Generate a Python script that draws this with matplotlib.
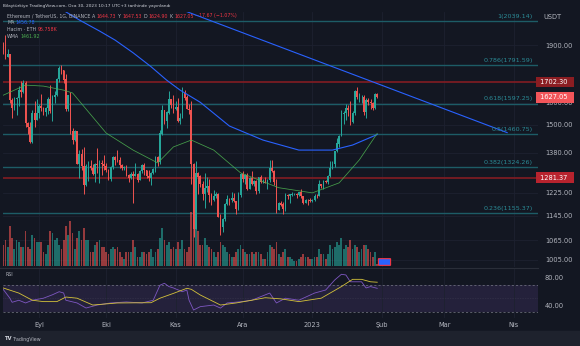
import matplotlib
matplotlib.use("Agg")
import matplotlib.pyplot as plt
import matplotlib.dates as mdates
import matplotlib.transforms as mtransforms
from matplotlib.lines import Line2D
from matplotlib.patches import Rectangle, FancyBboxPatch
from matplotlib.ticker import FixedLocator, NullLocator, FuncFormatter
import numpy as np
import pandas as pd

W, H = 580, 346
BG = "#131722"
UP = "#26a69a"
DOWN = "#ef5350"
TXT = "#b2b5be"
FIB = "#1d5c66"
FIB_TXT = "#2b8b96"
RED_LINE = "#7a1c22"
NARROW = ["Liberation Sans Narrow", "DejaVu Sans"]

# ETH/USDT daily candles, 2022-08-15 .. 2023-01-30
first_open = 1935.0
highs = [
    1960, 1915, 1960, 1880, 1850, 1625, 1630, 1628, 1682, 1710, 1715, 1710, 1512, 1510, 1565, 1607, 1618,
    1596, 1644, 1580, 1580, 1628, 1687, 1636, 1660, 1725, 1785, 1790, 1766, 1745, 1640, 1652, 1485, 1475,
    1470, 1390, 1395, 1405, 1336, 1348, 1350, 1335, 1337, 1400, 1349, 1350, 1372,
    1338, 1315, 1327, 1365, 1365, 1392, 1361, 1336, 1327, 1332, 1295, 1303, 1306, 1340, 1298, 1312, 1336,
    1340, 1313, 1310, 1303, 1318, 1365, 1365, 1475, 1590, 1568, 1560, 1660, 1620, 1640,
    1611, 1623, 1555, 1680, 1665, 1640, 1597, 1608, 1340, 1345, 1303, 1293, 1270, 1300, 1285, 1276, 1225,
    1236, 1227, 1226, 1150, 1138, 1190, 1218, 1205, 1230, 1224, 1197, 1228, 1300,
    1308, 1296, 1300, 1285, 1306, 1273, 1272, 1285, 1290, 1276, 1285, 1277, 1350, 1352, 1310, 1276, 1191,
    1197, 1193, 1225, 1220, 1220, 1228, 1224, 1225, 1229, 1240, 1215, 1203, 1202, 1208,
    1202, 1222, 1220, 1273, 1259, 1272, 1271, 1290, 1347, 1347, 1389, 1440, 1454, 1565, 1560, 1597, 1588,
    1609, 1560, 1665, 1676, 1648, 1640, 1640, 1625, 1625, 1620, 1605, 1650, 1647.53,
]
lows = [
    1862, 1851, 1825, 1835, 1600, 1530, 1565, 1542, 1585, 1630, 1648, 1490, 1460, 1422, 1421, 1490, 1522,
    1530, 1560, 1544, 1541, 1550, 1555, 1515, 1600, 1633, 1705, 1742, 1700, 1560, 1560, 1460, 1415, 1430,
    1334, 1280, 1313, 1220, 1252, 1268, 1313, 1290, 1267, 1300, 1262, 1290, 1310,
    1305, 1274, 1270, 1315, 1330, 1342, 1320, 1310, 1313, 1288, 1267, 1275, 1190, 1287, 1267, 1274, 1299,
    1292, 1282, 1270, 1255, 1296, 1305, 1327, 1335, 1456, 1503, 1486, 1548, 1578, 1553,
    1567, 1510, 1504, 1530, 1616, 1570, 1548, 1259, 1073, 1102, 1220, 1245, 1200, 1170, 1230, 1193, 1183,
    1195, 1205, 1140, 1081, 1091, 1128, 1180, 1180, 1192, 1194, 1152, 1163, 1211,
    1264, 1257, 1235, 1238, 1255, 1250, 1222, 1225, 1260, 1262, 1260, 1241, 1264, 1303, 1255, 1155, 1163,
    1178, 1151, 1160, 1203, 1190, 1213, 1216, 1208, 1213, 1206, 1185, 1187, 1180, 1194,
    1191, 1195, 1205, 1212, 1242, 1239, 1262, 1259, 1285, 1314, 1321, 1383, 1403, 1449, 1501, 1522, 1537,
    1500, 1508, 1544, 1617, 1606, 1602, 1545, 1532, 1588, 1570, 1568, 1570, 1624.90,
]
closes = [
    1898, 1877, 1834, 1848, 1612, 1577, 1619, 1625, 1662, 1655, 1697, 1508, 1490, 1424, 1553, 1523, 1553,
    1586, 1577, 1556, 1577, 1618, 1562, 1629, 1636, 1717, 1776, 1762, 1715, 1573, 1636, 1472, 1433, 1470,
    1336, 1376, 1325, 1253, 1327, 1328, 1318, 1294, 1334, 1330, 1337, 1336, 1328,
    1311, 1276, 1323, 1362, 1352, 1351, 1331, 1317, 1323, 1292, 1279, 1294, 1288, 1297, 1274, 1306, 1331,
    1311, 1287, 1282, 1299, 1314, 1363, 1343, 1461, 1568, 1515, 1555, 1620, 1589, 1572,
    1579, 1518, 1530, 1645, 1626, 1570, 1567, 1334, 1101, 1298, 1286, 1256, 1220, 1242, 1250, 1216, 1200,
    1212, 1219, 1141, 1107, 1134, 1184, 1203, 1198, 1206, 1196, 1168, 1216, 1296,
    1275, 1293, 1241, 1280, 1259, 1270, 1231, 1282, 1264, 1265, 1262, 1274, 1318, 1308, 1265, 1166, 1187,
    1183, 1167, 1217, 1212, 1219, 1219, 1220, 1219, 1226, 1212, 1189, 1200, 1199, 1196,
    1200, 1215, 1214, 1256, 1251, 1269, 1264, 1288, 1320, 1336, 1388, 1418, 1451, 1550, 1551, 1577, 1566,
    1512, 1552, 1659, 1628, 1628, 1629, 1556, 1612, 1603, 1598, 1574, 1644.73, 1627.05,
]
volumes_k = [
    1400, 900, 1100, 800, 1700, 1200, 700, 1100, 1000, 800, 800, 1500, 800, 700, 1300, 1200, 1000,
    1000, 1000, 600, 500, 900, 1500, 1400, 1100, 1200, 900, 700, 1100, 1700, 1300, 1900, 1400, 700,
    1200, 1500, 1100, 1600, 1100, 1100, 600, 600, 900, 1000, 1100, 800, 800,
    600, 500, 700, 800, 700, 800, 600, 400, 300, 600, 600, 600, 1100, 800, 400, 400, 600,
    600, 500, 600, 700, 400, 600, 700, 1200, 1600, 1100, 900, 1000, 700, 800,
    700, 1000, 700, 1100, 700, 600, 800, 2300, 2900, 2500, 1500, 900, 900, 1200, 900, 800, 700,
    600, 400, 600, 1000, 900, 800, 600, 500, 400, 400, 600, 700, 900,
    700, 600, 500, 500, 600, 500, 600, 600, 500, 300, 300, 600, 900, 800, 700, 1000, 500,
    400, 600, 700, 400, 400, 300, 200, 200, 300, 400, 500, 400, 400, 300,
    300, 400, 400, 700, 500, 500, 300, 500, 900, 700, 800, 1000, 900, 1200, 700, 900, 800,
    1100, 700, 900, 800, 600, 700, 900, 900, 700, 600, 400, 600, 96,
]
candle_dates = pd.date_range("2022-08-15", "2023-01-30", freq="D")

# moving averages read at sample dates
ma_dates = ["2022-09-08", "2022-09-19", "2022-09-28", "2022-10-05", "2022-10-13", "2022-10-21",
            "2022-10-28", "2022-11-03", "2022-11-12", "2022-11-25", "2022-12-10", "2022-12-26",
            "2023-01-10", "2023-01-19", "2023-01-30"]
ma_vals = [2139, 2047, 1981, 1928, 1857, 1782, 1712, 1662, 1603, 1494, 1433, 1391, 1391, 1412, 1456.78]

wma_dates = ["2022-08-16", "2022-08-23", "2022-08-26", "2022-09-03", "2022-09-12", "2022-09-16",
             "2022-10-01", "2022-10-13", "2022-10-24", "2022-10-31", "2022-11-08", "2022-11-18",
             "2022-11-30", "2022-12-17", "2023-01-01", "2023-01-13", "2023-01-22", "2023-01-30"]
wma_vals = [1637, 1672, 1687, 1682, 1662, 1648, 1463, 1391, 1339, 1404, 1433, 1391, 1300, 1244,
            1225, 1262, 1351, 1461.92]

trend_dates = ["2022-10-31", "2023-03-29"]
trend_vals = [2130, 1465]

fib_ratios = ["1", "0.786", "0.618", "0.5", "0.382", "0.236"]
fib_prices = [2039.14, 1791.59, 1597.25, 1460.75, 1324.26, 1155.37]
red_levels = [1702.30, 1281.37]
last_price = 1627.05

rsi_dates = ["2022-08-16", "2022-08-19", "2022-08-20", "2022-08-23", "2022-08-26", "2022-08-29",
             "2022-09-03", "2022-09-07", "2022-09-10", "2022-09-12", "2022-09-13", "2022-09-18",
             "2022-09-22", "2022-09-27", "2022-10-03", "2022-10-10", "2022-10-17", "2022-10-22",
             "2022-10-25", "2022-10-27", "2022-10-29", "2022-10-31", "2022-11-04", "2022-11-06",
             "2022-11-07", "2022-11-09", "2022-11-12", "2022-11-18", "2022-11-21", "2022-11-24",
             "2022-11-30", "2022-12-05", "2022-12-13", "2022-12-16", "2022-12-20", "2022-12-26",
             "2023-01-02", "2023-01-07", "2023-01-11", "2023-01-14", "2023-01-16", "2023-01-18",
             "2023-01-23", "2023-01-25", "2023-01-27", "2023-01-30"]
rsi_vals = [63, 50, 44, 47, 43, 47, 50, 55, 59.5, 57.6, 47, 43, 35.6, 40, 43, 44.5, 43, 47,
            69, 71.8, 67, 65, 59.5, 62, 47, 32.7, 37.6, 40, 35.5, 43, 44.8, 47, 57.5, 43, 50, 47,
            57.5, 62, 76.6, 85, 84, 74, 74, 65, 67, 64.45]
rsi_ma_dates = ["2022-08-16", "2022-08-23", "2022-08-29", "2022-09-03", "2022-09-09", "2022-09-13",
                "2022-09-18", "2022-09-25", "2022-10-06", "2022-10-21", "2022-10-25", "2022-10-31",
                "2022-11-06", "2022-11-08", "2022-11-12", "2022-11-21", "2022-11-28", "2022-12-05",
                "2022-12-11", "2022-12-18", "2022-12-26", "2023-01-05", "2023-01-14", "2023-01-19",
                "2023-01-23", "2023-01-27", "2023-01-30"]
rsi_ma_vals = [65, 57.5, 47, 45, 45, 51.7, 50, 40, 43, 43.4, 50, 57, 64.5, 63, 54.7, 40, 43, 47,
               50.7, 49, 45, 50, 67, 77.6, 77.6, 74, 73.39]

price_ticks = [1005, 1065, 1145, 1225, 1380, 1500, 1600, 1900]
month_ticks = ["2022-09-01", "2022-10-01", "2022-11-01", "2022-12-01", "2023-01-01",
               "2023-02-01", "2023-03-01", "2023-04-01"]
month_labels = ["Eyl", "Eki", "Kas", "Ara", "2023", "Şub", "Mar", "Nis"]


def fx(px):
    return px / W


def fy(py):
    return 1 - py / H


def num(dates):
    return mdates.date2num(pd.to_datetime(dates))


fig = plt.figure(figsize=(W / 100, H / 100), dpi=100, facecolor=BG)
fig.add_artist(Rectangle((0, 0), 1, fy(331), transform=fig.transFigure, color="#1e222d", zorder=0))

left, right = 3, 538
ax = fig.add_axes([fx(left), fy(267), fx(right - left), 255 / H])
vax = fig.add_axes([fx(left), fy(266), fx(right - left), 71 / H], sharex=ax)
rax = fig.add_axes([fx(left), fy(318), fx(right - left), 50 / H], sharex=ax)

x0 = mdates.date2num(pd.Timestamp("2022-09-01"))
ax.set_xlim(x0 - 16.07, x0 + 222.77)

for a in (ax, vax, rax):
    a.set_facecolor("none")
    for s in a.spines.values():
        s.set_visible(False)
vax.axis("off")
ax.set_facecolor(BG)
rax.set_facecolor(BG)

# --- price pane
ax.set_yscale("log")
ax.set_ylim(983, 2096)
ax.yaxis.tick_right()
ax.yaxis.set_major_locator(FixedLocator(price_ticks))
ax.yaxis.set_minor_locator(NullLocator())
ax.yaxis.set_major_formatter(FuncFormatter(lambda v, p: f"{v:.2f}"))
ax.tick_params(axis="y", length=0, pad=5, labelsize=4.8, labelcolor=TXT)
ax.tick_params(axis="x", length=0, labelbottom=False)
ax.set_xticks(num(month_ticks))
ax.grid(True, color="#1d2130", lw=0.6)

xs = mdates.date2num(candle_dates)
opens = [first_open] + closes[:-1]
o = np.array(opens, float)
c = np.array(closes, float)
cols = [UP if cc >= oo else DOWN for oo, cc in zip(o, c)]
ax.vlines(xs, lows, highs, colors=cols, lw=0.7, zorder=4)
ax.bar(xs, np.abs(c - o) + 0.5, bottom=np.minimum(o, c), width=0.74, color=cols, lw=0, zorder=5)

ax.plot(num(ma_dates), ma_vals, color="#2962ff", lw=0.8, zorder=6)
ax.plot(num(wma_dates), wma_vals, color="#4caf50", lw=0.55, alpha=0.9, zorder=6)
ax.plot(num(trend_dates), trend_vals, color="#2962ff", lw=0.8, zorder=6)

blend = mtransforms.blended_transform_factory(ax.transAxes, ax.transData)
for r, p in zip(fib_ratios, fib_prices):
    ax.axhline(p, color=FIB, lw=1.0, zorder=3)
    ax.annotate(f"{r}({p:.2f})", xy=(0.99, p), xycoords=blend, xytext=(0, 1.5),
                textcoords="offset points", ha="right", va="bottom",
                fontsize=4.6, color=FIB_TXT, zorder=7)
for p in red_levels:
    ax.axhline(p, color=RED_LINE, lw=1.3, zorder=3)

tag_colors = {1702.30: "#8b1d22", 1281.37: "#b8232e", last_price: "#f2555a"}
for p, col in tag_colors.items():
    ax.text(1.0, p, f" {p:.2f}  ", transform=blend, ha="left", va="center", fontsize=4.8,
            color="white", clip_on=False, zorder=10,
            bbox=dict(boxstyle="square,pad=0.35", fc=col, ec="none"))

# --- volume overlay
vax.set_ylim(0, 3000)
vcols = [(0.149, 0.651, 0.604, 0.6) if cc >= oo else (0.937, 0.325, 0.314, 0.6) for oo, cc in zip(o, c)]
vax.bar(xs, volumes_k, width=0.8, color=vcols, lw=0, zorder=2)

# --- RSI pane
rax.set_ylim(21, 94.2)
rax.axhspan(30, 70, color="#7e57c2", alpha=0.16, lw=0)
for lvl in (70, 30):
    rax.axhline(lvl, color="#787b86", lw=0.5, ls=(0, (3, 3)))
rax.axhline(50, color="#787b86", lw=0.4, ls=(0, (1, 2)), alpha=0.4)
rax.plot(num(rsi_dates), rsi_vals, color="#7e57c2", lw=0.6)
rax.plot(num(rsi_ma_dates), rsi_ma_vals, color="#d4c23a", lw=0.6)
rax.yaxis.tick_right()
rax.set_yticks([40, 80])
rax.yaxis.set_major_formatter(FuncFormatter(lambda v, p: f"{v:.2f}"))
rax.tick_params(axis="y", length=0, pad=5, labelsize=4.8, labelcolor=TXT)
rax.set_xticks(num(month_ticks))
rax.set_xticklabels(month_labels)
rax.tick_params(axis="x", length=0, pad=3, labelsize=4.8, labelcolor=TXT)
rax.grid(True, axis="x", color="#1d2130", lw=0.6)

fig.add_artist(Line2D([0, fx(right)], [fy(268), fy(268)], color="#2a2e39", lw=0.8))

# --- header texts
def chain(parts, x, y, size=3.4):
    prev = fig.text(fx(x), fy(y), parts[0][0], color=parts[0][1], fontsize=size,
                    family=NARROW, ha="left", va="center")
    for txt, col in parts[1:]:
        prev = ax.annotate(txt, xy=(1, 0), xycoords=prev, xytext=(1.1, 0),
                           textcoords="offset points", ha="left", va="bottom",
                           color=col, fontsize=size, family=NARROW, annotation_clip=False)


RED_T = "#f23645"
GREY = "#b2b5be"
chain([("Bilaytürkiye TradingView.com, Oca 30, 2023 10:17 UTC+3 tarihinde yayınlandı", "#d1d4dc")], 3, 6, 3.1)
chain([("Ethereum / TetherUS, 1G, BINANCE", GREY), ("A", GREY), ("1644.73", RED_T),
       ("Y", GREY), ("1647.53", RED_T), ("D", GREY), ("1624.90", RED_T), ("K", GREY),
       ("1627.05", RED_T), ("−17.67 (−1.07%)", RED_T)], 7, 16)
chain([("MA", GREY), ("1456.78", "#2962ff")], 7, 22.5)
chain([("Hacim · ETH", GREY), ("95.758K", RED_T)], 7, 29.5)
chain([("WMA", GREY), ("1461.92", "#4caf50")], 7, 36.5)
chain([("RSI", GREY), ("64.45", "#7e57c2"), ("73.39", "#d4c23a"), ("∅", GREY), ("∅", GREY)], 5, 274)

fig.text(fx(543), fy(17), "USDT", color=GREY, fontsize=4.8, va="center", ha="left")

# small volume event marker next to last bar
fig.add_artist(FancyBboxPatch((fx(379), fy(265)), fx(11), 6 / H, boxstyle="round,pad=0.001",
                              transform=fig.transFigure, fc="#2962ff", ec="#f23645", lw=0.8))

fig.text(fx(4), fy(339), "TV", color="#d1d4dc", fontsize=3.8, weight="bold", va="center")
fig.text(fx(13), fy(339), "TradingView", color="#b2b5be", fontsize=3.4, family=NARROW, va="center")

fig.savefig("out.png", dpi=100, facecolor=BG)
